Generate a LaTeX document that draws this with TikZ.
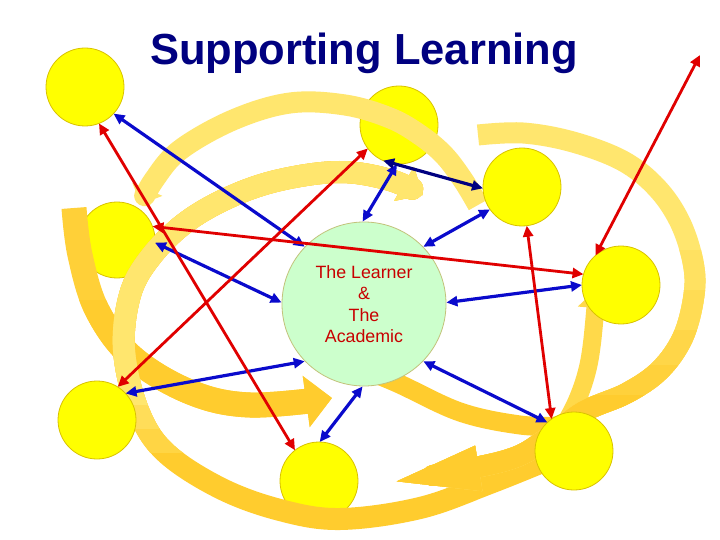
\documentclass[tikz,border=0pt]{standalone}
\usepackage{fontspec}
\setmainfont{Liberation Sans}
\usetikzlibrary{arrows.meta}
\definecolor{ylw}{HTML}{FFFF00}
\definecolor{ylwline}{HTML}{D9C200}
\definecolor{grn}{HTML}{CCFFCC}
\definecolor{grnline}{HTML}{C2C27A}
\definecolor{bandL}{HTML}{FFE66E}
\definecolor{bandM}{HTML}{FFD94A}
\definecolor{bandO}{HTML}{FFCC2E}
\definecolor{blu}{HTML}{0A0ACC}
\definecolor{nvy}{HTML}{000080}
\definecolor{rd}{HTML}{E00000}
\definecolor{txtred}{HTML}{C80000}
\newcommand\bandBpath{plot[smooth, tension=0.6] coordinates {(552,458) (490,483) (420,508) (340,519) (280,510) (220,488) (165,452) (138,410) (124,350) (130,295) (150,258) (185,223) (230,197) (280,180) (340,172) (390,180) (423,195)}}
\newcommand\bandCpath{plot[smooth, tension=0.6] coordinates {(478,135) (523,133) (573,142) (623,161) (657,188) (680,222) (693,262) (694,295) (683,337) (660,370) (627,393) (583,412) (545,440) (500,462) (380,484)}}
\begin{document}
\begin{tikzpicture}[x=1pt,y=-1pt,
  ycirc/.style={circle, fill=ylw, draw=ylwline, line width=0.8pt, inner sep=0pt, outer sep=0pt, minimum size=78pt},
  bluearrow/.style={draw=blu, line width=3.2pt, {Triangle[length=11pt,width=10pt]}-{Triangle[length=11pt,width=10pt]}},
  navyarrow/.style={draw=nvy, line width=3.2pt, {Triangle[length=11pt,width=10pt]}-{Triangle[length=11pt,width=10pt]}},
  redarrow/.style={draw=rd, line width=2.8pt, {Triangle[length=11pt,width=10pt]}-{Triangle[length=11pt,width=10pt]}},
  bandpath/.style={line cap=butt, line join=round},
  bandB/.style={bandpath, line width=22pt, -{Triangle[length=22pt,width=38pt]}},
  bandC/.style={bandpath, line width=21pt, -{Triangle[length=100pt,width=38pt]}}
]
\useasboundingbox (0,0) rectangle (720,540);
\fill[white] (0,0) rectangle (720,540);

% circles that lie beneath the bands
\node[ycirc] (c2) at (399,125) {};
\node[ycirc, minimum size=76pt] (c8) at (117,240) {};
\node[ycirc] (c6) at (319,481) {};

% left orange band
\draw[bandpath, bandO!85!bandL, line width=25pt, -{Triangle[length=26pt,width=50pt]}] plot[smooth, tension=0.6] coordinates {(74,208) (80,255) (97,310) (132,357) (190,392) (250,405) (332,398)};
\begin{scope}
\clip (0,300) rectangle (720,540);
\draw[bandpath, bandO, line width=25pt, -{Triangle[length=26pt,width=50pt]}] plot[smooth, tension=0.6] coordinates {(74,208) (80,255) (97,310) (132,357) (190,392) (250,405) (332,398)};
\end{scope}

% big inner loop band (orange below, light above)
\draw[bandB, bandO] \bandBpath;
\begin{scope}
\clip (0,0) rectangle (460,452);
\draw[bandB, bandO!66!bandL] \bandBpath;
\end{scope}
\begin{scope}
\clip (0,0) rectangle (460,428);
\draw[bandB, bandO!33!bandL] \bandBpath;
\end{scope}
\begin{scope}
\clip (0,0) rectangle (460,404);
\draw[bandB, bandL] \bandBpath;
\end{scope}

% top band over the top circle
\draw[bandpath, bandL, line width=21pt, -{Triangle[length=16pt,width=32pt]}] plot[smooth, tension=0.6] coordinates {(478,205) (463,180) (444,155) (420,135) (390,118) (345,105) (290,103) (233,120) (180,150) (154,180) (141,204)};

% band from the centre to the lower right circle and up
\draw[bandpath, bandO, line width=19pt] plot[smooth, tension=0.6] coordinates {(340,360) (395,382) (460,412) (520,425) (560,426)};
\draw[bandpath, bandM, line width=18pt, -{Triangle[length=20pt,width=34pt]}] plot[smooth, tension=0.6] coordinates {(560,432) (575,405) (586,375) (592,343) (597,288)};

% right outer band, light to orange
\draw[bandC, bandL] \bandCpath;
\begin{scope}
\clip (0,250) rectangle (720,540);
\draw[bandC, bandO!20!bandL] \bandCpath;
\end{scope}
\begin{scope}
\clip (0,290) rectangle (720,540);
\draw[bandC, bandO!40!bandL] \bandCpath;
\end{scope}
\begin{scope}
\clip (0,330) rectangle (720,540);
\draw[bandC, bandO!60!bandL] \bandCpath;
\end{scope}
\begin{scope}
\clip (0,365) rectangle (720,540);
\draw[bandC, bandO!80!bandL] \bandCpath;
\end{scope}
\begin{scope}
\clip (0,395) rectangle (720,540);
\draw[bandC, bandO] \bandCpath;
\end{scope}

% circles above the bands
\node[ycirc] (c1) at (85,87) {};
\node[ycirc] (c3) at (522,187) {};
\node[ycirc] (c4) at (621,285) {};
\node[ycirc] (c5) at (574,451) {};
\node[ycirc] (c7) at (97,420) {};
\node[circle, fill=grn, draw=grnline, line width=0.8pt, minimum size=164pt, inner sep=0pt, align=center, text=txtred, font=\fontsize{17.8pt}{21.5pt}\selectfont] (ctr) at (364,304) {The Learner\\\&\\The\\Academic};

% title
\node[anchor=base, text=nvy, font=\fontsize{43.5pt}{50pt}\selectfont\bfseries] (title) at (364,65) {Supporting Learning};

\coordinate (tr) at (700,55);

% blue connectors
\draw[bluearrow] (c1.-43) -- (ctr.136);
\draw[bluearrow] (c8.-4) -- (ctr.179);
\draw[bluearrow] (c7.43) -- (ctr.224);
\draw[bluearrow] (c6.89) -- (ctr.269);
\draw[bluearrow] (c5.133) -- (ctr.-44);
\draw[bluearrow] (c4.180) -- (ctr.1);
\draw[bluearrow] (c3.215) -- (ctr.44);
\draw[bluearrow] (c2.267) -- (ctr.91);
\draw[navyarrow] (c2.246) -- (c3.182);

% red connectors
\draw[redarrow] (c1.-69) -- (c6.128);
\draw[redarrow] (c8.21) -- (c4.164);
\draw[redarrow] (c7.58) -- (c2.217);
\draw[redarrow] (c3.-83) -- (c5.125);
\draw[redarrow] (c4.131) -- (tr);
\end{tikzpicture}
\end{document}
